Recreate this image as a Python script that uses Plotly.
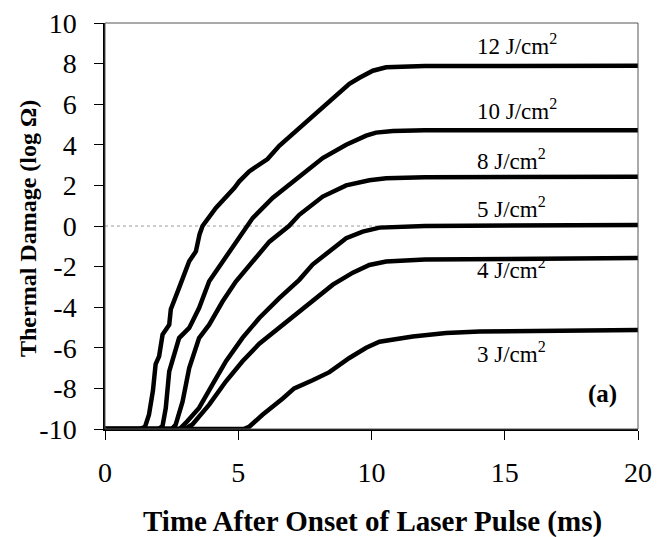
import plotly.graph_objects as go

# Time (ms) and thermal damage (log Omega) per fluence
t12 = [0, 1.3, 1.5, 1.65, 1.8, 1.9, 2.03, 2.16, 2.41, 2.47, 2.78, 3.16, 3.41, 3.55, 3.66, 4.16, 4.85, 5.04, 5.41, 6.10, 6.54, 7.29, 8.17, 8.55, 9.17, 9.55, 10.05, 10.55, 12, 20]
d12 = [-10, -10, -9.9, -9.3, -8.1, -6.8, -6.42, -5.35, -4.86, -4.1, -3.05, -1.74, -1.25, -0.4, 0.0, 0.89, 1.87, 2.2, 2.69, 3.3, 3.95, 4.83, 5.81, 6.3, 7.0, 7.3, 7.65, 7.82, 7.88, 7.9]

t10 = [0, 2.0, 2.16, 2.28, 2.41, 2.78, 3.16, 3.53, 3.91, 4.41, 4.91, 5.29, 5.54, 6.29, 7.29, 8.17, 9.05, 9.8, 10.17, 10.8, 12, 20]
d10 = [-10, -10, -9.85, -8.97, -7.16, -5.52, -5.02, -4.04, -2.72, -1.74, -0.75, -0.05, 0.39, 1.38, 2.4, 3.35, 4.0, 4.45, 4.6, 4.68, 4.72, 4.72]

t8 = [0, 2.5, 2.65, 2.91, 3.16, 3.53, 3.91, 4.41, 4.91, 5.54, 6.17, 6.9, 7.29, 8.17, 9.05, 9.92, 10.55, 12, 20]
d8 = [-10, -10, -9.8, -8.65, -7.0, -5.52, -4.86, -3.72, -2.74, -1.75, -0.77, 0.0, 0.55, 1.45, 2.0, 2.25, 2.35, 2.4, 2.42]

t5 = [0, 2.8, 3.03, 3.53, 4.03, 4.54, 5.16, 5.79, 6.54, 7.29, 7.79, 8.42, 9.05, 9.67, 10.3, 12, 20]
d5 = [-10, -10, -9.7, -8.96, -7.81, -6.66, -5.51, -4.53, -3.55, -2.65, -1.9, -1.25, -0.6, -0.28, -0.08, 0.0, 0.05]

t4 = [0, 3.0, 3.28, 3.91, 4.54, 5.16, 5.79, 6.54, 7.29, 8.05, 8.55, 9.3, 9.92, 10.55, 12, 20]
d4 = [-10, -10, -9.78, -8.8, -7.65, -6.66, -5.8, -5.0, -4.2, -3.38, -2.89, -2.3, -1.92, -1.75, -1.65, -1.58]

t3 = [0, 5.2, 5.4, 5.91, 6.67, 7.1, 7.79, 8.42, 9.17, 9.8, 10.3, 11.55, 12.8, 14.06, 20]
d3 = [-10, -10, -9.9, -9.3, -8.5, -8.0, -7.6, -7.2, -6.5, -6.0, -5.7, -5.44, -5.27, -5.2, -5.12]

labels = ["12 J/cm<sup>2</sup>", "10 J/cm<sup>2</sup>", "8 J/cm<sup>2</sup>",
          "5 J/cm<sup>2</sup>", "4 J/cm<sup>2</sup>", "3 J/cm<sup>2</sup>"]
label_y = [8.95, 5.75, 3.3, 0.9, -2.1, -6.25]
times = [t12, t10, t8, t5, t4, t3]
damages = [d12, d10, d8, d5, d4, d3]

x_ticks = [0, 5, 10, 15, 20]
y_ticks = [-10, -8, -6, -4, -2, 0, 2, 4, 6, 8, 10]

SERIF = "Liberation Serif"

fig = go.Figure()

# zero reference line
fig.add_shape(type="line", xref="x", yref="y", x0=0, x1=20, y0=0, y1=0,
              line=dict(color="#9a9a9a", width=1, dash="dot"), layer="below")

for name, t, d, ly in zip(labels, times, damages, label_y):
    fig.add_trace(go.Scatter(x=t, y=d, mode="lines", name=name,
                             line=dict(color="black", width=4.5), showlegend=False))
    fig.add_annotation(x=13.9, y=ly, xref="x", yref="y", text=name,
                       showarrow=False, xanchor="left", yanchor="middle",
                       font=dict(family=SERIF, size=23, color="black"))

fig.add_annotation(x=18.65, y=-8.3, xref="x", yref="y", text="<b>(a)</b>",
                   showarrow=False, xanchor="center", yanchor="middle",
                   font=dict(family=SERIF, size=25, color="black"))

# frame top/right
fig.add_shape(type="rect", xref="paper", yref="paper", x0=0, x1=1, y0=0, y1=1,
              line=dict(color="#555555", width=1), layer="above")

# axis titles
fig.add_annotation(x=0.501, y=-0.229, xref="paper", yref="paper",
                   text="<b>Time After Onset of Laser Pulse (ms)</b>",
                   showarrow=False, xanchor="center", yanchor="middle",
                   font=dict(family=SERIF, size=29, color="black"))
fig.add_annotation(x=-0.1445, y=0.495, xref="paper", yref="paper",
                   text="<b>Thermal Damage (log Ω)</b>", textangle=-90,
                   showarrow=False, xanchor="center", yanchor="middle",
                   font=dict(family=SERIF, size=24, color="black"))

fig.update_layout(
    width=655, height=529,
    margin=dict(l=97, r=25, t=15, b=108, autoexpand=False),
    paper_bgcolor="white", plot_bgcolor="white",
    font=dict(family=SERIF, color="black"),
    xaxis=dict(range=[0, 20], tickvals=x_ticks, ticktext=[str(v) for v in x_ticks],
               showgrid=False, zeroline=False, showline=True, linecolor="black", linewidth=1.5,
               ticks="outside", ticklen=9, tickcolor="black", tickwidth=1,
               ticklabelstandoff=9, automargin=False, ticklabeloverflow="allow",
               tickfont=dict(family=SERIF, size=28, color="black")),
    yaxis=dict(range=[-10, 10], tickvals=y_ticks, ticktext=[str(v) for v in y_ticks],
               showgrid=False, zeroline=False, showline=True, linecolor="black", linewidth=1.5,
               ticks="outside", ticklen=9, tickcolor="black", tickwidth=1,
               ticklabelstandoff=12, automargin=False, ticklabeloverflow="allow",
               tickfont=dict(family=SERIF, size=28, color="black")),
)

fig.write_html("out.html")
